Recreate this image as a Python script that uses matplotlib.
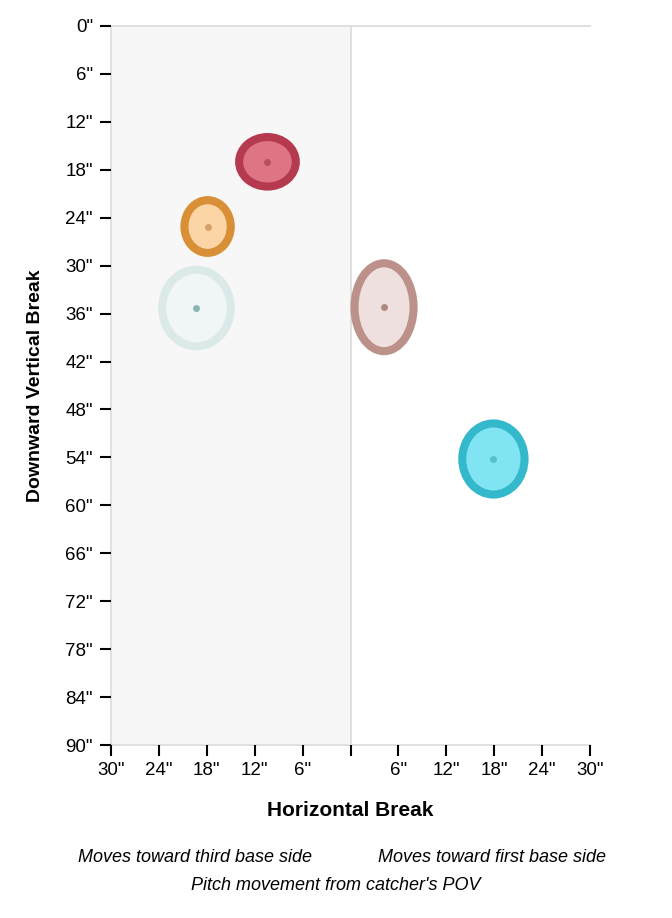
import numpy as np
import matplotlib
matplotlib.use('Agg')
import matplotlib.pyplot as plt
from matplotlib.patches import Ellipse, Rectangle

plt.rcParams['font.family'] = ['Liberation Sans', 'DejaVu Sans']

# Pitch movement data (inches): horizontal break, downward vertical break, spread
pitch_x = [-10.4, -17.9, -19.3, 4.2, 17.9]
pitch_y = [17.0, 25.1, 35.3, 35.2, 54.2]
pitch_w = [7.1, 5.8, 8.6, 7.4, 7.8]
pitch_h = [6.2, 6.6, 9.6, 11.0, 8.9]
edge_colors = ['#b5394f', '#d98f35', '#dbe9e9', '#bb918a', '#33b8cc']
fill_colors = ['#e07487', '#fbd5a5', '#f0f5f5', '#efe0e0', '#80e4f2']
dot_colors = ['#b6505f', '#d8a06a', '#8ab5b5', '#b08880', '#55bfcc']

x_ticks = [-30, -24, -18, -12, -6, 0, 6, 12, 18, 24, 30]
y_ticks = list(range(0, 91, 6))

fig = plt.figure(figsize=(6.72, 9.18), dpi=100)
ax = fig.add_axes([111 / 672, 1 - 745 / 918, 479 / 672, 719 / 918])
ax.set_xlim(-30, 30)
ax.set_ylim(90, 0)

# third base side shading
ax.add_patch(Rectangle((-30, 0), 30, 90, facecolor='#f7f7f7', edgecolor='#e0e0e0',
                       linewidth=1.4, zorder=0, clip_on=False))
ax.axhline(0, color='#e0e0e0', linewidth=1.4, zorder=0.5, clip_on=False)
ax.axhline(90, color='#e0e0e0', linewidth=1.4, zorder=0.5, clip_on=False)

for i in range(len(pitch_x)):
    ax.add_patch(Ellipse((pitch_x[i], pitch_y[i]), pitch_w[i], pitch_h[i],
                         facecolor=fill_colors[i], edgecolor=edge_colors[i],
                         linewidth=5.8, zorder=2))
    ax.plot(pitch_x[i], pitch_y[i], 'o', color=dot_colors[i], markersize=5,
            markeredgewidth=0, zorder=3)

for s in ax.spines.values():
    s.set_visible(False)

ax.set_xticks(x_ticks)
ax.set_xticklabels([f'{abs(v)}"' if v != 0 else '' for v in x_ticks])
ax.set_yticks(y_ticks)
ax.set_yticklabels([f'{v}"' for v in y_ticks])
ax.tick_params(axis='both', length=8, width=1.5, color='black', labelsize=13.5)
ax.tick_params(axis='y', pad=5)
ax.tick_params(axis='x', pad=4)

ax.set_xlabel('Horizontal Break', fontsize=15, fontweight='bold', labelpad=16)
ax.set_ylabel('Downward Vertical Break', fontsize=14, fontweight='bold', labelpad=15.5)

fig.text(195 / 672, 1 - 858 / 918, 'Moves toward third base side', fontsize=13,
         style='italic', ha='center', va='center')
fig.text(492 / 672, 1 - 858 / 918, 'Moves toward first base side', fontsize=13,
         style='italic', ha='center', va='center')
fig.text(336 / 672, 1 - 886 / 918, "Pitch movement from catcher's POV", fontsize=13,
         style='italic', ha='center', va='center')

fig.savefig('out.png', dpi=100)
